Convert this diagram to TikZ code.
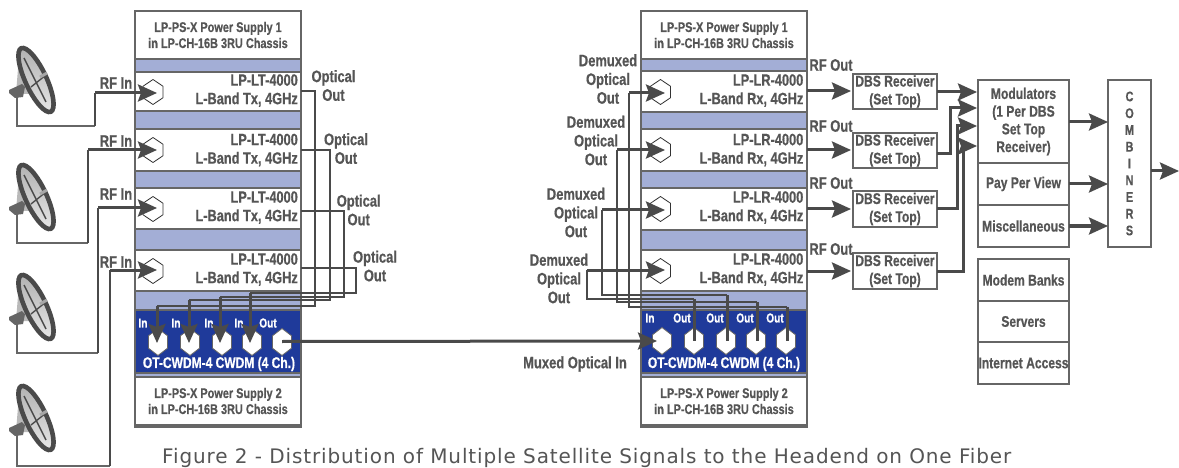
\documentclass[tikz,border=0pt]{standalone}
\usepackage{fontspec}
\setmainfont{Liberation Sans}
\newfontfamily\cf[FakeStretch=0.78,BoldFeatures={FakeStretch=0.78,FakeBold=0.5}]{Liberation Sans}
\newfontfamily\capf[LetterSpace=4.4]{DejaVu Sans}
\usetikzlibrary{arrows.meta}
\definecolor{ink}{HTML}{4A4A4A}
\definecolor{txt}{HTML}{555555}
\definecolor{edge}{HTML}{666666}
\definecolor{band}{HTML}{A3AED6}
\definecolor{navy}{HTML}{1F3A9A}
\tikzset{
  box/.style={draw=edge,line width=1.3pt,fill=white,inner sep=0pt,outer sep=0pt,align=center,text=txt},
  bandbox/.style={fill=band,draw=none,inner sep=0pt,outer sep=0pt},
  navybox/.style={fill=navy,draw=edge,line width=1.3pt,inner sep=0pt,outer sep=0pt},
  lab/.style={text=txt,align=center,inner sep=0pt,font=\cf\bfseries\fontsize{16.6}{18.7}\selectfont},
  boxlab/.style={box,font=\cf\bfseries\fontsize{15.5}{18}\selectfont},
  small/.style={font=\cf\bfseries\fontsize{14}{16}\selectfont},
  modlab/.style={lab,align=right,anchor=east,font=\cf\bfseries\fontsize{16.4}{18.5}\selectfont},
  wlab/.style={text=white,inner sep=0pt,font=\cf\bfseries\fontsize{13}{14}\selectfont},
  nlab/.style={text=white,inner sep=0pt,font=\cf\bfseries\fontsize{15.4}{16}\selectfont},
  head/.style={-{Stealth[length=19pt,width=17pt,inset=3pt]}},
  thick line/.style={draw=ink,line width=3pt},
  opt/.style={draw=ink,line width=1.8pt},
  stem/.style={draw=edge,line width=1.6pt},
  mhex/.style={draw=black!80,line width=0.8pt,fill=white},
  nhex/.style={draw=edge,line width=0.8pt,fill=white},
}
% \bx{name}{x1}{y1}{x2}{y2}{style}{text}
\newcommand\bx[7]{%
  \pgfmathsetmacro\bw{#4-#2}\pgfmathsetmacro\bh{#5-#3}%
  \pgfmathsetmacro\cxx{(#2+#4)/2}\pgfmathsetmacro\cyy{(#3+#5)/2}%
  \node[#6,minimum width=\bw pt,minimum height=\bh pt] (#1) at (\cxx,\cyy) {#7};}
% \hexa{name}{x}{y}{half width}{half height}{style}
\newcommand\hexa[6]{%
  \coordinate (#1) at (#2,#3);%
  \draw[#6] (#1) ++(0,-#5) -- ++(#4,0.27*#5*2) -- ++(0,0.46*#5*2) -- ++(-#4,0.27*#5*2)
     -- ++(-#4,-0.27*#5*2) -- ++(0,-0.46*#5*2) -- cycle;}
% \dish{name}{y offset}
\newcommand\dish[2]{%
  \begin{scope}[yshift=-#2pt]
    \fill[gray!55] (19,56) -- (16,94) -- (33,94) -- cycle;
    \draw[draw=ink,line width=4.6pt,top color=gray!60,bottom color=gray!20,rotate around={25:(36,80)}]
        (36,80) ellipse [x radius=10.5,y radius=35];
    \draw[ink,line width=1.4pt] (24,58) -- (46,102);
    \draw[ink,line width=1.4pt] (31,87) -- (46,75);
    \draw[gray!70,line width=3pt] (40,77) -- (47,73);
    \fill[ink!85] (9,90) -- (22,84) -- (25,87) -- (23,97) -- (15,98) -- (9,93) -- cycle;
    \coordinate (#1) at (17,96);
  \end{scope}}
\begin{document}
\begin{tikzpicture}[x=1pt,y=-1pt]
\useasboundingbox (0,0) rectangle (1179,468);
\fill[white] (0,0) rectangle (1179,468);

% ---------- dishes
\dish{D1}{0}\dish{D2}{117}\dish{D3}{227}\dish{D4}{338}

% ---------- left chassis
\bx{LC}{135}{11}{301}{427}{box}{}
\bx{LB}{136}{59}{300}{310}{bandbox}{}
\bx{LB2}{136}{373}{300}{378}{bandbox}{}
\bx{LP1}{135}{11}{301}{59}{box,small}{LP-PS-X Power Supply 1\\in LP-CH-16B 3RU Chassis}
\bx{LM1}{135}{72}{301}{111}{box}{}
\bx{LM2}{135}{129}{301}{171}{box}{}
\bx{LM3}{135}{188}{301}{229}{box}{}
\bx{LM4}{135}{250}{301}{291}{box}{}
\bx{LN}{135}{310}{301}{373}{navybox}{}
\bx{LP2}{135}{377}{301}{425}{box,small}{LP-PS-X Power Supply 2\\in LP-CH-16B 3RU Chassis}

% ---------- right chassis
\bx{RC}{641}{11}{807}{427}{box}{}
\bx{RB}{642}{59}{806}{310}{bandbox}{}
\bx{RB2}{642}{373}{806}{378}{bandbox}{}
\bx{RP1}{641}{11}{807}{59}{box,small}{LP-PS-X Power Supply 1\\in LP-CH-16B 3RU Chassis}
\bx{RM1}{641}{71}{807}{112}{box}{}
\bx{RM2}{641}{129}{807}{171}{box}{}
\bx{RM3}{641}{188}{807}{230}{box}{}
\bx{RM4}{641}{250}{807}{291}{box}{}
\bx{RN}{641}{310}{807}{373}{navybox}{}
\bx{RP2}{641}{377}{807}{425}{box,small}{LP-PS-X Power Supply 2\\in LP-CH-16B 3RU Chassis}

% ---------- module labels
\node[modlab] (LT1) at (298,90.5) {LP-LT-4000\\L-Band Tx, 4GHz};
\node[modlab] (LT2) at (298,150) {LP-LT-4000\\L-Band Tx, 4GHz};
\node[modlab] (LT3) at (298,207.5) {LP-LT-4000\\L-Band Tx, 4GHz};
\node[modlab] (LT4) at (298,269.5) {LP-LT-4000\\L-Band Tx, 4GHz};
\node[modlab] (RT1) at (803.5,90.5) {LP-LR-4000\\L-Band Rx, 4GHz};
\node[modlab] (RT2) at (803.5,150) {LP-LR-4000\\L-Band Rx, 4GHz};
\node[modlab] (RT3) at (803.5,207.5) {LP-LR-4000\\L-Band Rx, 4GHz};
\node[modlab] (RT4) at (803.5,269.5) {LP-LR-4000\\L-Band Rx, 4GHz};

% ---------- hexagons
\hexa{LH1}{153}{92}{10}{12.5}{mhex}
\hexa{LH2}{153}{150}{10}{12.5}{mhex}
\hexa{LH3}{153}{209}{10}{12.5}{mhex}
\hexa{LH4}{153}{271}{10}{12.5}{mhex}
\hexa{RH1}{660.5}{92}{10}{12.5}{mhex}
\hexa{RH2}{660.5}{150}{10}{12.5}{mhex}
\hexa{RH3}{660.5}{209}{10}{12.5}{mhex}
\hexa{RH4}{660.5}{271}{10}{12.5}{mhex}
\hexa{LX1}{158}{342}{9.5}{13.5}{nhex}
\hexa{LX2}{190}{342}{9.5}{13.5}{nhex}
\hexa{LX3}{222}{342}{9.5}{13.5}{nhex}
\hexa{LX4}{252}{342}{9.5}{13.5}{nhex}
\hexa{LX5}{282}{342}{9.5}{13.5}{nhex}
\hexa{RX1}{662}{341}{9.5}{13.5}{nhex}
\hexa{RX2}{694}{341}{9.5}{13.5}{nhex}
\hexa{RX3}{726}{341}{9.5}{13.5}{nhex}
\hexa{RX4}{756}{341}{9.5}{13.5}{nhex}
\hexa{RX5}{786}{341}{9.5}{13.5}{nhex}

% ---------- navy labels
\node[wlab] (LI1) at (143,323) {In};
\node[wlab] (LI2) at (176,323) {In};
\node[wlab] (LI3) at (209,323) {In};
\node[wlab] (LI4) at (239,323) {In};
\node[wlab] (LO5) at (268,323) {Out};
\node[nlab] (LNT) at (219,364) {OT-CWDM-4 CWDM (4 Ch.)};
\node[wlab] (RI1) at (650,318) {In};
\node[wlab] (RO2) at (682,318) {Out};
\node[wlab] (RO3) at (715,318) {Out};
\node[wlab] (RO4) at (745,318) {Out};
\node[wlab] (RO5) at (775,318) {Out};
\node[nlab] (RNT) at (724,364) {OT-CWDM-4 CWDM (4 Ch.)};

% ---------- DBS and head-end boxes
\bx{DB1}{853}{74}{937}{109}{boxlab}{DBS Receiver\\(Set Top)}
\bx{DB2}{853}{133}{937}{168}{boxlab}{DBS Receiver\\(Set Top)}
\bx{DB3}{853}{191}{937}{227}{boxlab}{DBS Receiver\\(Set Top)}
\bx{DB4}{853}{253}{937}{289}{boxlab}{DBS Receiver\\(Set Top)}
\bx{MOD}{978}{80}{1069}{163}{box,font=\cf\bfseries\fontsize{15.5}{17.7}\selectfont}{Modulators\\(1 Per DBS\\Set Top\\Receiver)}
\bx{PPV}{978}{163}{1069}{205}{boxlab}{Pay Per View}
\bx{MSC}{978}{205}{1069}{247}{boxlab}{Miscellaneous}
\bx{MDM}{978}{259}{1069}{301}{boxlab}{Modem Banks}
\bx{SRV}{978}{301}{1069}{342}{boxlab}{Servers}
\bx{INT}{978}{342}{1069}{384}{boxlab}{Internet Access}
\bx{CMB}{1108}{80}{1151}{247}{box,font=\cf\bfseries\fontsize{14}{16.75}\selectfont}{C\\O\\M\\B\\I\\N\\E\\R\\S}

% ---------- bend points
\coordinate (a1) at (95,126);  \coordinate (b1) at (95,93);
\coordinate (a2) at (88,243);  \coordinate (b2) at (88,150);
\coordinate (a3) at (98,353);  \coordinate (b3) at (98,208);
\coordinate (a4) at (110,466); \coordinate (b4) at (110,270);
\coordinate (T1) at (157,93);\coordinate (T2) at (157,150);\coordinate (T3) at (157,208);\coordinate (T4) at (157,270);

% ---------- RF in
\draw[stem] (D1) |- (a1);
\draw[stem] (D2) |- (a2);
\draw[stem] (D3) |- (a3);
\draw[stem] (D4) |- (a4);
\foreach \i in {1,2,3,4}{
  \draw[thick line,line width=2.4pt] (a\i) -- (b\i);
  \draw[thick line,head] (b\i) -- (T\i);
}

% ---------- optical out to mux
\coordinate (o1a) at (315,91);  \coordinate (o1b) at (315,306);
\coordinate (o2a) at (330,150); \coordinate (o2b) at (330,300);
\coordinate (o3a) at (344,211); \coordinate (o3b) at (344,297);
\coordinate (o4a) at (356,268); \coordinate (o4b) at (356,293);
\coordinate (p1) at (157,306); \coordinate (p2) at (189,300); \coordinate (p3) at (220,297); \coordinate (p4) at (250,293);
\coordinate (q1) at (157,343); \coordinate (q2) at (189,343); \coordinate (q3) at (220,343); \coordinate (q4) at (250,343);
\foreach \i in {1,2,3,4}{
  \draw[opt,line join=miter] (LM\i.east |- o\i a) -- (o\i a) -- (o\i b) -- (p\i);
  \draw[thick line,head] (p\i) -- (q\i);
}

% ---------- muxed link
\coordinate (tipR) at (657,341);
\draw[thick line,head] (LX5) ++(0,-0.5) -- (tipR);

% ---------- demux
\coordinate (r1a) at (629,93);  \coordinate (r1b) at (629,307);
\coordinate (r2a) at (617,150); \coordinate (r2b) at (617,302);
\coordinate (r3a) at (602,210); \coordinate (r3b) at (602,295);
\coordinate (r4a) at (587,270); \coordinate (r4b) at (587,299);
\coordinate (s1) at (787,307); \coordinate (s2) at (757,302); \coordinate (s3) at (727,295); \coordinate (s4) at (694,299);
\coordinate (u1) at (665,93);  \coordinate (u2) at (665,150);\coordinate (u3) at (665,210);\coordinate (u4) at (665,270);
\coordinate (w1) at (787,341); \coordinate (w2) at (757,341);\coordinate (w3) at (727,341);\coordinate (w4) at (694,341);
\foreach \i in {1,2,3,4}{
  \draw[opt,line join=miter] (s\i) -- (r\i b) -- (r\i a);
  \draw[thick line,head] (r\i a) -- (u\i);
  \draw[thick line] (s\i) -- (w\i);
}

% ---------- RF out
\coordinate (e1) at (807,91);\coordinate (e2) at (807,150);\coordinate (e3) at (807,209);\coordinate (e4) at (807,271);
\coordinate (f1) at (851,91);\coordinate (f2) at (851,150);\coordinate (f3) at (851,209);\coordinate (f4) at (851,271);
\foreach \i in {1,2,3,4}{\draw[thick line,head] (e\i) -- (f\i);}

% ---------- to modulators
\coordinate (m1) at (977,92); \coordinate (m2) at (977,108); \coordinate (m3) at (977,126); \coordinate (m4) at (977,146);
\coordinate (k2) at (950,108);\coordinate (k3) at (957,126);\coordinate (k4) at (963,146);
\draw[thick line,head] (DB1.east |- m1) -- (m1);
\draw[thick line,head] (DB2.east |- 0,154) -| (k2) -- (m2);
\draw[thick line,head] (DB3.east |- 0,209) -| (k3) -- (m3);
\draw[thick line,head] (DB4.east |- 0,271) -| (k4) -- (m4);

% ---------- to combiners
\draw[thick line,head] (MOD.east |- 0,122) -- (CMB.west |- 0,122);
\draw[thick line,head] (PPV.east |- 0,184) -- (CMB.west |- 0,184);
\draw[thick line,head] (MSC.east |- 0,226) -- (CMB.west |- 0,226);
\coordinate (outC) at (1179,171);
\draw[thick line,head] (CMB.east |- outC) -- (outC);

% ---------- labels
\foreach \n/\y in {1/83,2/141,3/194,4/262}{\node[lab] (RFI\n) at (116,\y) {RF In};}
\node[lab] (OO1) at (333.5,85.5) {Optical\\Out};
\node[lab] (OO2) at (346,148.5) {Optical\\Out};
\node[lab] (OO3) at (358.7,210) {Optical\\Out};
\node[lab] (OO4) at (375,266) {Optical\\Out};
\node[lab] (DO1) at (608,79) {Demuxed\\Optical\\Out};
\node[lab] (DO2) at (596,140.5) {Demuxed\\Optical\\Out};
\node[lab] (DO3) at (576,212.5) {Demuxed\\Optical\\Out};
\node[lab] (DO4) at (559,278.5) {Demuxed\\Optical\\Out};
\foreach \n/\y in {1/65,2/126,3/183,4/249}{\node[lab] (RFO\n) at (831,\y) {RF Out};}
\node[lab] (MUX) at (575,364) {Muxed Optical In};

% ---------- caption
\node[anchor=base west,inner sep=0pt,text=txt,font=\capf\fontsize{20}{22}\selectfont] (CAP) at (162,463) {Figure 2 - Distribution of Multiple Satellite Signals to the Headend on One Fiber};
\end{tikzpicture}
\end{document}
